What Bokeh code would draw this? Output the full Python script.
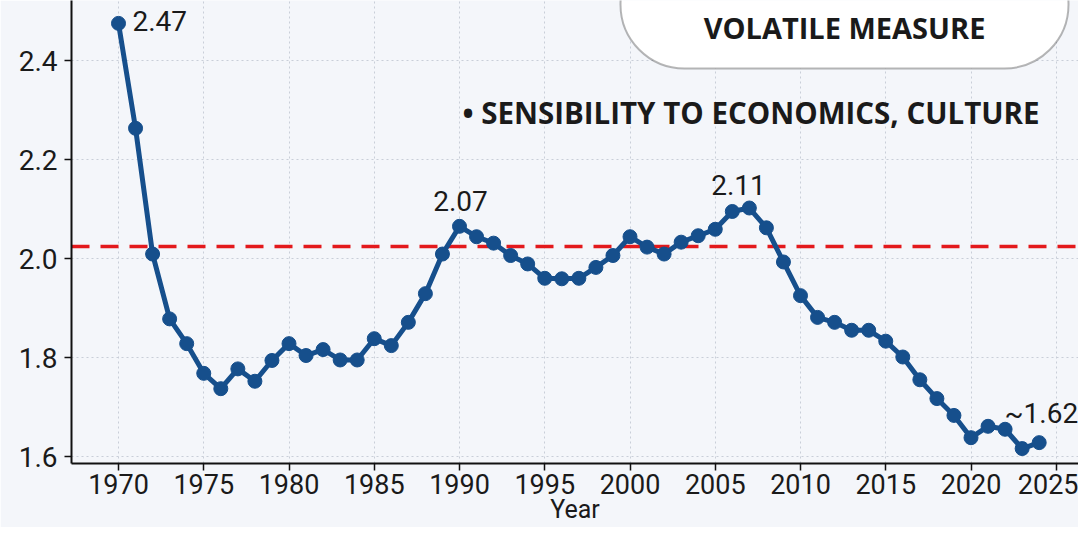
from bokeh.plotting import figure
from bokeh.models import Label, BoxAnnotation, Span, Range1d, FixedTicker, NumeralTickFormatter
from bokeh.embed import file_html
from bokeh.resources import INLINE

years = list(range(1970, 2025))
values = [2.475, 2.263, 2.009, 1.878, 1.828, 1.768, 1.737, 1.777, 1.752, 1.794,
          1.828, 1.804, 1.816, 1.795, 1.795, 1.838, 1.824, 1.871, 1.929, 2.009,
          2.065, 2.044, 2.031, 2.006, 1.989, 1.960, 1.959, 1.960, 1.982, 2.006,
          2.044, 2.023, 2.009, 2.033, 2.046, 2.059, 2.095, 2.102, 2.062, 1.993,
          1.925, 1.881, 1.871, 1.855, 1.855, 1.833, 1.801, 1.755, 1.717, 1.683,
          1.638, 1.661, 1.655, 1.616, 1.628]
reference_level = 2.024
x_ticks = list(range(1970, 2030, 5))
y_ticks = [1.6, 1.8, 2.0, 2.2, 2.4]
x_title = "Year"
callout_text = "VOLATILE MEASURE"
bullet_text = "\u2022 SENSIBILITY TO ECONOMICS, CULTURE"

BG = "#f4f6fa"
BLUE = "#164f8c"
FONT = "Roboto"

def px_x(px):
    return 1970 + (px - 118) / 17.05

def px_y(py):
    return 2.0 + (258 - py) / 495

p = figure(width=1078, height=527, output_backend="svg", toolbar_location=None,
           x_range=Range1d(px_x(71), px_x(1078)), y_range=Range1d(px_y(463), px_y(0)),
           min_border_left=71, min_border_right=0, min_border_top=0, min_border_bottom=64)
p.background_fill_color = BG
p.border_fill_color = BG
p.outline_line_color = None

p.xaxis.ticker = FixedTicker(ticks=x_ticks)
p.yaxis.ticker = FixedTicker(ticks=y_ticks)
p.yaxis.formatter = NumeralTickFormatter(format="0.0")
for ax in (p.xaxis, p.yaxis):
    ax.axis_line_color = "#111111"
    ax.axis_line_width = 2
    ax.major_tick_line_color = "#111111"
    ax.major_tick_line_width = 1.5
    ax.major_tick_out = 7
    ax.major_tick_in = 0
    ax.minor_tick_line_color = None
    ax.major_label_text_font = FONT
    ax.major_label_text_color = "#1a1a1a"
p.xaxis.major_label_text_font_size = "27px"
p.yaxis.major_label_text_font_size = "28px"
p.xaxis.major_label_standoff = 3
p.yaxis.major_label_standoff = 7
p.xaxis.axis_label = x_title
p.xaxis.axis_label_text_font = FONT
p.xaxis.axis_label_text_font_size = "25px"
p.xaxis.axis_label_text_font_style = "normal"
p.xaxis.axis_label_text_color = "#1a1a1a"
p.xaxis.axis_label_standoff = -2

p.xgrid.grid_line_color = "#c9ced8"
p.ygrid.grid_line_color = "#c9ced8"
p.xgrid.grid_line_dash = "2 3"
p.ygrid.grid_line_dash = "2 3"
p.xgrid.grid_line_width = 1
p.ygrid.grid_line_width = 1

span = Span(location=reference_level, dimension="width", line_color="#e3191c",
            line_dash="18 11", line_width=3.5, level="underlay")
p.add_layout(span)

p.line(years, values, line_color=BLUE, line_width=5)
p.scatter(years, values, size=14, fill_color=BLUE, line_color=BLUE)

def add_label(text, px, py, align="center", size="28px", style="normal", font=FONT):
    p.add_layout(Label(x=px_x(px), y=px_y(py), text=text, text_font=font,
                       text_font_size=size, text_font_style=style, text_color="#1a1a1a",
                       text_align=align, text_baseline="middle"))

add_label("2.47", 132, 20, align="left")
add_label("2.07", 460, 200)
add_label("2.11", 738, 184)
add_label("~1.62", 1004, 413, align="left")

box = BoxAnnotation(left=px_x(620), right=px_x(1068), bottom=px_y(68), top=px_y(-60),
                    fill_color="white", fill_alpha=1, line_color="#111111", line_width=2,
                    border_radius=64)
p.add_layout(box)
add_label(callout_text, 844, 27, size="29px", style="bold", font="Open Sans")
add_label(bullet_text, 462, 112, align="left", size="29.5px", style="bold", font="Open Sans")

open("out.html", "w").write(file_html(p, INLINE))
